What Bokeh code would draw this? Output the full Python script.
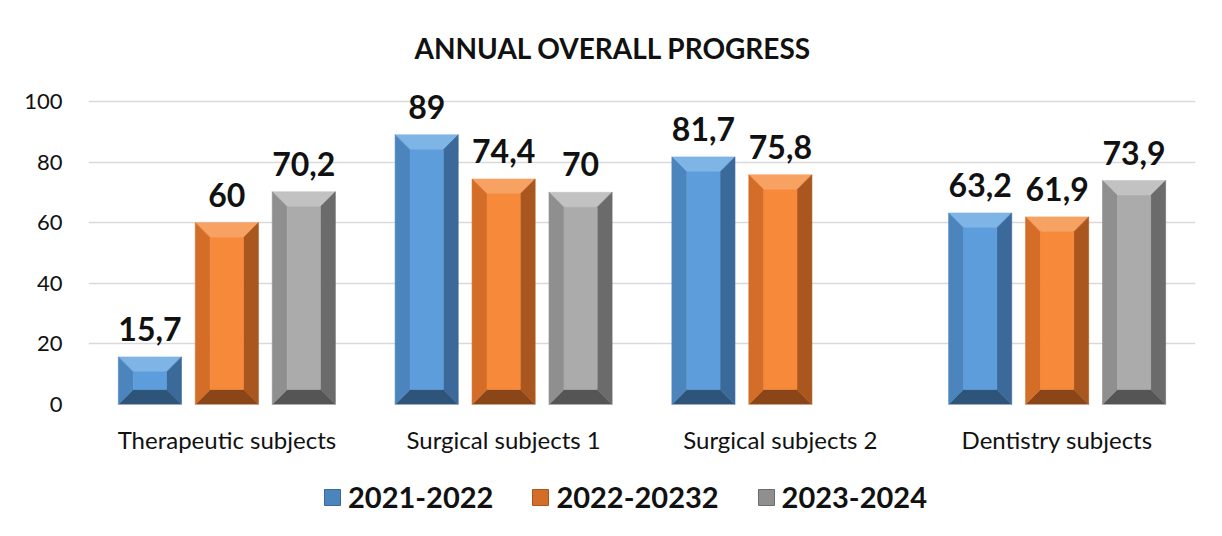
import math
from bokeh.plotting import figure
from bokeh.layouts import column
from bokeh.models import (ColumnDataSource, LabelSet, Legend, LegendItem,
                          FixedTicker, Range1d)
from bokeh.core.properties import value
from bokeh.embed import file_html
from bokeh.resources import INLINE

# ---------------- data ----------------
categories = ["Therapeutic subjects", "Surgical subjects 1", "Surgical subjects 2", "Dentistry subjects"]
series_names = ["2021-2022", "2022-20232", "2023-2024"]
values_2021_2022 = [15.7, 89, 81.7, 63.2]
values_2022_2023 = [60, 74.4, 75.8, 61.9]
values_2023_2024 = [70.2, 70, float("nan"), 73.9]
y_ticks = [0, 20, 40, 60, 80, 100]
title_text = "ANNUAL OVERALL PROGRESS"

series_values = [values_2021_2022, values_2022_2023, values_2023_2024]

# ---------------- styling ----------------
palettes = [
    dict(face="#5d9ddb", top="#7fb4e6", left="#4c84bd", right="#3b6a9a", bottom="#2e5479"),
    dict(face="#f6893a", top="#f7a163", left="#d36d28", right="#a9571f", bottom="#8a4619"),
    dict(face="#ababab", top="#c2c2c2", left="#8f8f8f", right="#6b6b6b", bottom="#555555"),
]
offsets = [-0.278, 0.0, 0.278]
bar_w = 0.228
bevel_x = 0.054
bevel_y = 4.95
FONT = "Lato"

p = figure(width=1206, height=456, x_range=Range1d(-0.5, 3.5), y_range=Range1d(0, 110.2),
           output_backend="svg", toolbar_location=None,
           min_border_left=88, min_border_right=11, min_border_top=70, min_border_bottom=52)
p.outline_line_color = None
p.background_fill_color = "white"
p.border_fill_color = "white"
p.xgrid.grid_line_color = None
p.ygrid.grid_line_color = "#d9d9d9"
p.ygrid.grid_line_width = 1.5
p.ygrid.ticker = FixedTicker(ticks=y_ticks)

p.title.text = title_text
p.title.align = "left"
p.title.offset = 326
p.title.text_font = FONT
p.title.text_font_style = "bold"
p.title.text_font_size = "28px"
p.title.text_color = "#111111"
p.title.standoff = 11

p.yaxis.ticker = FixedTicker(ticks=y_ticks)
p.yaxis.axis_line_color = None
p.yaxis.major_tick_line_color = None
p.yaxis.minor_tick_line_color = None
p.yaxis.major_label_standoff = 20
p.yaxis.major_label_text_font = FONT
p.yaxis.major_label_text_font_size = "22px"
p.yaxis.major_label_text_color = "#111111"

p.xaxis.ticker = FixedTicker(ticks=list(range(len(categories))))
p.xaxis.major_label_overrides = {i: c for i, c in enumerate(categories)}
p.xaxis.axis_line_color = None
p.xaxis.major_tick_line_color = None
p.xaxis.minor_tick_line_color = None
p.xaxis.major_label_standoff = 14
p.xaxis.major_label_text_font = FONT
p.xaxis.major_label_text_font_size = "24px"
p.xaxis.major_label_text_color = "#111111"

label_x, label_y, label_text = [], [], []
for s, vals in enumerate(series_values):
    pal = palettes[s]
    parts = {k: ([], []) for k in ("top", "bottom", "left", "right")}
    face = dict(left=[], right=[], bottom=[], top=[])
    for i, v in enumerate(vals):
        if v is None or (isinstance(v, float) and math.isnan(v)):
            continue
        xc = i + offsets[s]
        x0, x1 = xc - bar_w / 2, xc + bar_w / 2
        by = min(bevel_y, v / 2 - 0.6)
        bx = bevel_x
        parts["top"][0].append([x0, x1, x1 - bx, x0 + bx])
        parts["top"][1].append([v, v, v - by, v - by])
        parts["bottom"][0].append([x0, x1, x1 - bx, x0 + bx])
        parts["bottom"][1].append([0, 0, by, by])
        parts["left"][0].append([x0, x0 + bx, x0 + bx, x0])
        parts["left"][1].append([0, by, v - by, v])
        parts["right"][0].append([x1, x1 - bx, x1 - bx, x1])
        parts["right"][1].append([0, by, v - by, v])
        face["left"].append(x0 + bx)
        face["right"].append(x1 - bx)
        face["bottom"].append(by)
        face["top"].append(v - by)
        label_x.append(xc)
        label_y.append(v)
        label_text.append(f"{v:g}".replace(".", ","))
    for k, (xs, ys) in parts.items():
        p.patches(xs=xs, ys=ys, fill_color=pal[k], line_color=pal[k], line_width=0.6)
    p.quad(left=face["left"], right=face["right"], bottom=face["bottom"],
           top=face["top"], fill_color=pal["face"], line_color=pal["face"], line_width=0.6)

labels_src = ColumnDataSource(dict(x=label_x, y=label_y, text=label_text))
p.add_layout(LabelSet(x="x", y="y", text="text", source=labels_src, y_offset=16,
                      text_align="center", text_baseline="alphabetic",
                      text_font=value(FONT), text_font_style="bold",
                      text_font_size="32px", text_color="#111111"))

# ---------------- legend strip ----------------
p2 = figure(width=1206, height=64, x_range=Range1d(0, 1), y_range=Range1d(0, 1),
            output_backend="svg", toolbar_location=None,
            x_axis_location=None, y_axis_location=None,
            min_border_left=0, min_border_right=0, min_border_top=0, min_border_bottom=0)
p2.grid.visible = False
p2.outline_line_color = None
p2.border_fill_color = "white"
leg_items = []
for s, name in enumerate(series_names):
    # placeholder glyph outside the visible range: only its legend swatch is seen
    r = p2.quad(left=[5], right=[6], bottom=[5], top=[6], fill_color=palettes[s]["left"],
                line_color=palettes[s]["right"], line_width=1)
    leg_items.append(LegendItem(label=name, renderers=[r]))
legend = Legend(items=leg_items, location=(234, 6), orientation="horizontal",
                padding=0, margin=0, spacing=37, label_standoff=6,
                glyph_width=20, glyph_height=20,
                border_line_color=None, background_fill_alpha=0,
                label_text_font=FONT, label_text_font_style="bold",
                label_text_font_size="29px", label_text_color="#111111")
p2.add_layout(legend, "center")

layout = column(p, p2, spacing=0)
open("out.html", "w").write(file_html(layout, INLINE))
